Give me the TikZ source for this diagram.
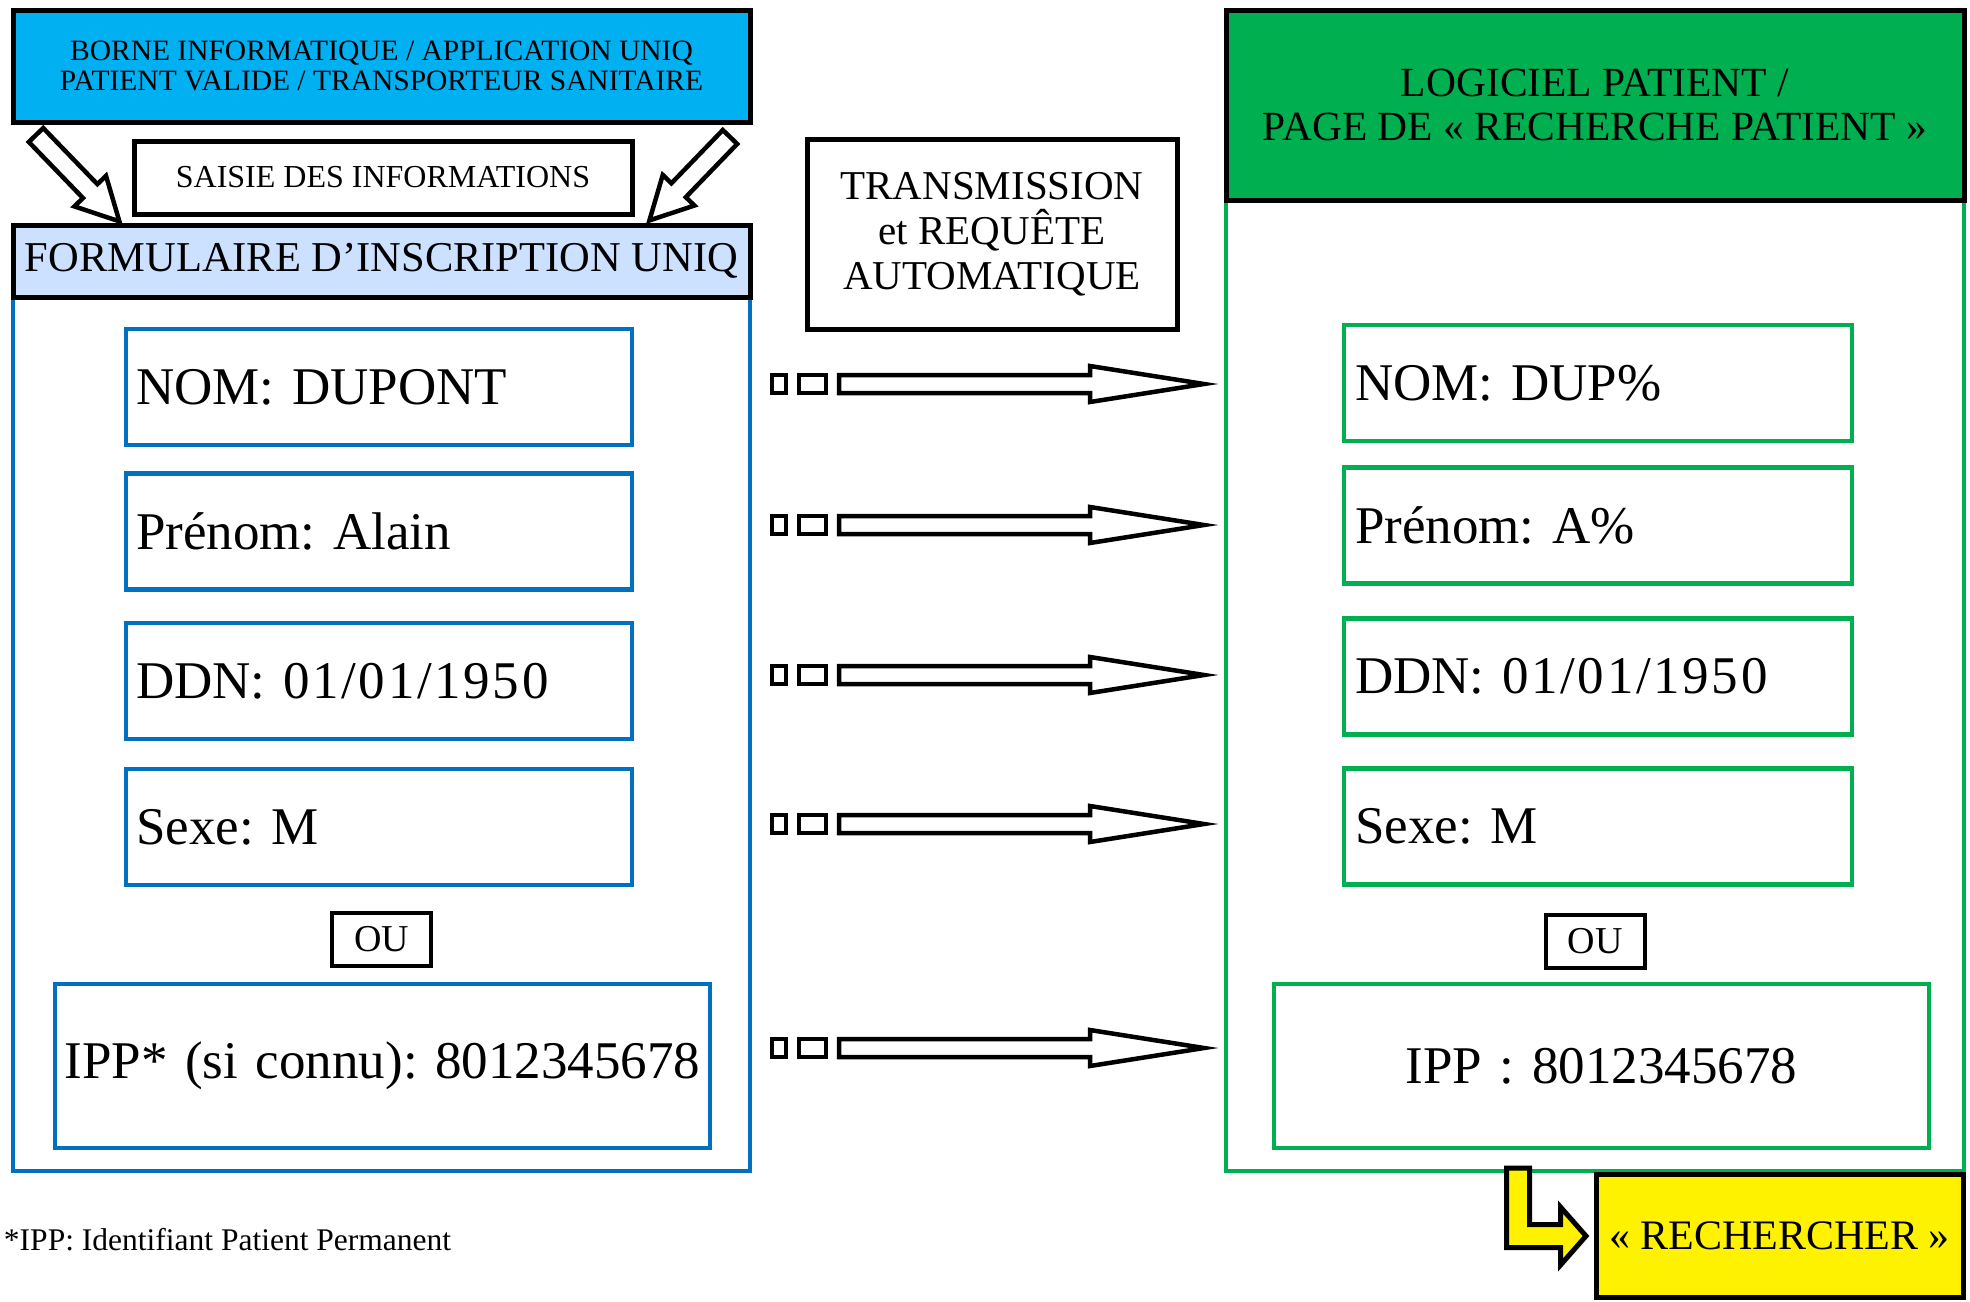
\documentclass[tikz,border=0pt]{standalone}
\usepackage{fontspec}
\setmainfont{Liberation Serif}
\usetikzlibrary{positioning}
\frenchspacing

\definecolor{borneblue}{RGB}{0,176,240}
\definecolor{formblue}{RGB}{204,224,255}
\definecolor{frameblue}{RGB}{0,112,192}
\definecolor{logigreen}{RGB}{0,176,80}

\begin{document}
\begin{tikzpicture}[%
  x=1pt, y=-1pt,
  every node/.style={inner sep=0pt, outer sep=0pt},
  blackbox/.style={draw=black, line width=5pt, align=center},
  hollow/.style={draw=black, fill=white, line width=4.5pt},
  lfield/.style={draw=frameblue, line width=4.5pt, minimum width=506pt,
    minimum height=116pt, text width=486pt, align=left,
    font=\fontsize{53}{60}\selectfont},
  rfield/.style={lfield, draw=logigreen, minimum width=508pt, text width=486pt},
  oubox/.style={blackbox, line width=4pt, minimum width=99pt, minimum height=53pt,
    font=\fontsize{38}{42}\selectfont}]
  \useasboundingbox (0,0) rectangle (1970,1301);
  \fill[white] (0,0) rectangle (1970,1301);

  % left side
  \node[draw=frameblue, line width=4.5pt, minimum width=737pt,
    minimum height=874pt] (lframe) at (381.5,734) {};
  \node[blackbox, fill=borneblue, minimum width=737pt, minimum height=112pt,
    font=\fontsize{29.5}{30}\selectfont] (borne) at (381.5,66)
    {BORNE INFORMATIQUE / APPLICATION UNIQ\\PATIENT VALIDE / TRANSPORTEUR SANITAIRE};
  \node[blackbox, minimum width=498pt, minimum height=73pt,
    font=\fontsize{32}{34}\selectfont] (saisie) at (383,177.5) {SAISIE DES INFORMATIONS};
  \node[blackbox, fill=formblue, minimum width=737pt, minimum height=72pt,
    font=\fontsize{42.5}{46}\selectfont] (form) at (381.5,261) {FORMULAIRE D’INSCRIPTION UNIQ};

  \node[lfield] (lnom) at (379,387) {NOM: DUPONT};
  \node[lfield] (lprenom) at (379,531.5) {Prénom: Alain};
  \node[lfield] (lddn) at (379,681) {DDN: {\addfontfeature{LetterSpace=5}01/01/1950}};
  \node[lfield] (lsexe) at (379,827) {Sexe: M};
  \node[oubox] (lou) at (381.5,939.5) {OU};
  \node[lfield, minimum width=655pt, minimum height=164pt, text width=655pt,
    align=center] (lipp) at (382.5,1066) {IPP* (si connu): 8012345678};

  % hollow arrows from the borne to the form
  \begin{scope}[shift={(36,135)}, rotate=-46]
    \draw[hollow] (0,-10) -- (78,-10) -- (78,-22) -- (120,0) -- (78,22) -- (78,10)
      -- (0,10) -- cycle;
  \end{scope}
  \begin{scope}[shift={(730,137)}, rotate=-134]
    \draw[hollow] (0,-10) -- (74,-10) -- (74,-22) -- (116,0) -- (74,22) -- (74,10)
      -- (0,10) -- cycle;
  \end{scope}

  % middle
  \node[blackbox, minimum width=370pt, minimum height=190pt,
    font=\fontsize{41}{45}\selectfont] (transmission) at (992,234)
    {TRANSMISSION\\et REQUÊTE\\AUTOMATIQUE};
  \foreach \y in {384,525,675,824,1048} {
    \draw[hollow] (772,\y-9) rectangle (786,\y+9);
    \draw[hollow] (799,\y-9) rectangle (826,\y+9);
    \draw[hollow] (839,\y-9) -- (1090,\y-9) -- (1090,\y-18) -- (1204,\y)
      -- (1090,\y+18) -- (1090,\y+9) -- (839,\y+9) -- cycle;
  }

  % right side
  \node[draw=logigreen, line width=4.5pt, minimum width=738pt,
    minimum height=971pt] (rframe) at (1595,685.5) {};
  \node[blackbox, fill=logigreen, minimum width=738pt, minimum height=190pt,
    font=\fontsize{41.5}{44}\selectfont] (logiciel) at (1595,105)
    {LOGICIEL PATIENT /\\PAGE DE « RECHERCHE PATIENT »};

  \node[rfield] (rnom) at (1598,383) {NOM: DUP\%};
  \node[rfield] (rprenom) at (1598,525.5) {Prénom: A\%};
  \node[rfield] (rddn) at (1598,676.5) {DDN: {\addfontfeature{LetterSpace=5}01/01/1950}};
  \node[rfield] (rsexe) at (1598,826.5) {Sexe: M};
  \node[oubox] (rou) at (1595,941) {OU};
  \node[rfield, minimum width=655pt, minimum height=164pt, text width=655pt,
    align=center] (ripp) at (1601.5,1066) {IPP : 8012345678};

  % search button
  \draw[draw=black, fill=yellow, line width=5pt] (1506.5,1168) -- (1529.5,1168)
    -- (1529.5,1224.5) -- (1560.5,1224.5) -- (1560.5,1207) -- (1586,1236)
    -- (1560.5,1265) -- (1560.5,1247.5) -- (1506.5,1247.5) -- cycle;
  \node[blackbox, fill=yellow, minimum width=367pt, minimum height=123pt,
    font=\fontsize{42}{46}\selectfont] (rechercher) at (1779.5,1235.5)
    {« RECHERCHER »};

  \node[anchor=west, font=\fontsize{31.5}{33}\selectfont] (note) at (4,1240)
    {*IPP: Identifiant Patient Permanent};
\end{tikzpicture}
\end{document}
